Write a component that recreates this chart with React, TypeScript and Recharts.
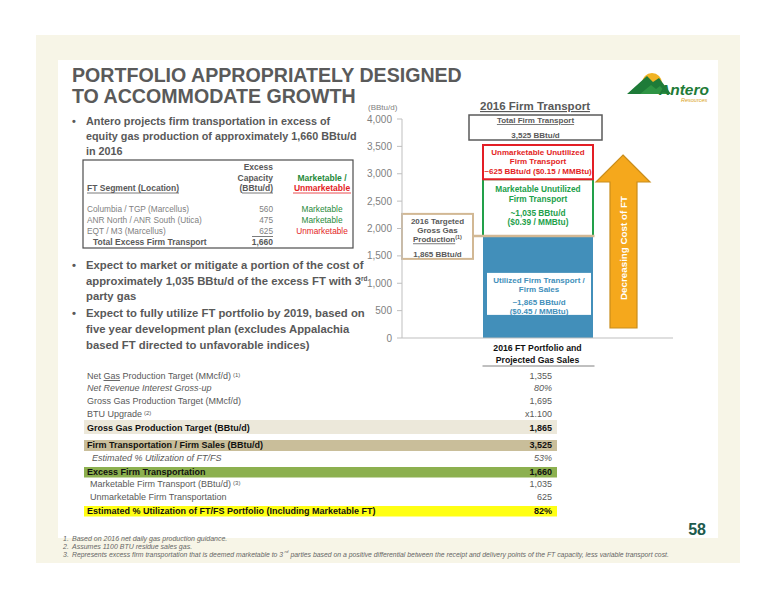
import React from 'react';
import { BarChart, Bar, XAxis, YAxis, LabelList, ReferenceLine } from 'recharts';

// ---------- data ----------
const categories = ['2016 FT Portfolio and|Projected Gas Sales'];
const utilizedFT = [1865];
const marketableFT = [1035];
const unmarketableFT = [625];
const totalFT = [3525];
const yTicks = [0, 500, 1000, 1500, 2000, 2500, 3000, 3500, 4000];

const segmentNames = ['Columbia / TGP (Marcellus)', 'ANR North / ANR South (Utica)', 'EQT / M3 (Marcellus)'];
const segmentCapacity = ['560', '475', '625'];
const segmentStatus = ['Marketable', 'Marketable', 'Unmarketable'];
const segmentTotal = '1,660';

const bridgeLabels = [
  'Net Gas Production Target (MMcf/d)',
  'Net Revenue Interest Gross-up',
  'Gross Gas Production Target (MMcf/d)',
  'BTU Upgrade',
  'Gross Gas Production Target (BBtu/d)',
  'Firm Transportation / Firm Sales (BBtu/d)',
  'Estimated % Utilization of FT/FS',
  'Excess Firm Transportation',
  'Marketable Firm Transport (BBtu/d)',
  'Unmarketable Firm Transportation',
  'Estimated % Utilization of FT/FS Portfolio (Including Marketable FT)',
];
const bridgeNotes = ['(1)', '', '', '(2)', '', '', '', '', '(3)', '', ''];
const bridgeValues = ['1,355', '80%', '1,695', 'x1.100', '1,865', '3,525', '53%', '1,660', '1,035', '625', '82%'];

const footnote1 = 'Based on 2016 net daily gas production guidance.';
const footnote2 = 'Assumes 1100 BTU residue sales gas.';
const footnote3a = 'Represents excess firm transportation that is deemed marketable to 3';
const footnote3b = 'parties based on a positive differential between the receipt and delivery points of the FT capacity, less variable transport cost.';

// ---------- styles / layout ----------
const FONT = "'Liberation Sans', Arial, Helvetica, sans-serif";
const GRAY = '#595959';
const BLUE = '#428fba';
const GREEN = '#22a04a';
const RED = '#e31e25';
const TAN = '#d2b894';
const ORANGE = '#f5a81c';

const bridgeLayout = [
  { y: 379, x: 87, bold: false, italic: false, band: null },
  { y: 391, x: 87, bold: false, italic: true, band: null },
  { y: 404, x: 87, bold: false, italic: false, band: null },
  { y: 417, x: 87, bold: false, italic: false, band: null },
  { y: 431, x: 87, bold: true, italic: false, band: { y: 420, h: 14, c: '#ece8da' } },
  { y: 448, x: 87, bold: true, italic: false, band: { y: 440, h: 11, c: '#c9be9a' } },
  { y: 461, x: 92, bold: false, italic: true, band: null },
  { y: 475, x: 87, bold: true, italic: false, band: { y: 467, h: 10.5, c: '#8cb04f' } },
  { y: 487, x: 90, bold: false, italic: false, band: null },
  { y: 500, x: 90, bold: false, italic: false, band: null },
  { y: 514, x: 87, bold: true, italic: false, band: { y: 506, h: 10.5, c: '#ffff14' } },
];

const chartData = categories.map((name, i) => ({
  name,
  utilized: utilizedFT[i],
  marketable: marketableFT[i],
  unmarketable: unmarketableFT[i],
}));

const fmt = (v: number) => v.toLocaleString('en-US');

const box = (p: any) => {
  const vb = p.viewBox && p.viewBox.width !== undefined ? p.viewBox : p;
  return { x: Number(vb.x), y: Number(vb.y), width: Number(vb.width), height: Number(vb.height) };
};

const UtilizedLabel = (p: any) => {
  const { x, y, width } = box(p);
  const cx = x + width / 2 + 1;
  const v = utilizedFT[p.index ?? 0];
  return (
    <g fontFamily={FONT} fontWeight="bold" fontSize={8} fill={BLUE} textAnchor="middle">
      <rect x={x + 4} y={y + 37} width={width - 6} height={42} fill="#ffffff" />
      <text x={cx} y={y + 47}>Utilized Firm Transport /</text>
      <text x={cx} y={y + 56}>Firm Sales</text>
      <text x={cx} y={y + 69}>~{fmt(v)} BBtu/d</text>
      <text x={cx} y={y + 78}>($0.45 / MMBtu)</text>
    </g>
  );
};

const MarketableLabel = (p: any) => {
  const { x, y, width } = box(p);
  const cx = x + width / 2;
  const v = marketableFT[p.index ?? 0];
  return (
    <g fontFamily={FONT} fontWeight="bold" fontSize={8.3} fill={GREEN} textAnchor="middle">
      <text x={cx} y={y + 13}>Marketable Unutilized</text>
      <text x={cx} y={y + 23}>Firm Transport</text>
      <text x={cx} y={y + 37}>~{fmt(v)} BBtu/d</text>
      <text x={cx} y={y + 46}>($0.39 / MMBtu)</text>
    </g>
  );
};

const UnmarketableLabel = (p: any) => {
  const { x, y, width, height } = box(p);
  const i = p.index ?? 0;
  const cx = x + width / 2;
  const k = height / unmarketableFT[i];
  const baseY = y + height + (utilizedFT[i] + marketableFT[i]) * k;
  const right = x + width;
  const tipY = y + 10;
  const headY = y + 37;
  const botY = baseY - 10;
  const ax = right + 30;
  return (
    <g fontFamily={FONT} fontWeight="bold">
      <g fontSize={8} fill={RED} textAnchor="middle">
        <text x={cx} y={y + 9.5}>Unmarketable Unutilized</text>
        <text x={cx} y={y + 19}>Firm Transport</text>
        <text x={cx} y={y + 28.5}>~{fmt(unmarketableFT[i])} BBtu/d ($0.15 / MMBtu)</text>
      </g>
      <rect x={cx - 69} y={y - 30} width={133} height={25} fill="#ffffff" stroke="#5a5a5a" strokeWidth={1.5} />
      <g fontSize={8} fill={GRAY} textAnchor="middle">
        <text x={cx - 2.5} y={y - 22} style={{ textDecoration: 'underline' }}>Total Firm Transport</text>
        <text x={cx - 2.5} y={y - 7.5}>{fmt(totalFT[i])} BBtu/d</text>
      </g>
      <text x={cx - 3} y={y - 35} fontSize={11.5} fill={GRAY} textAnchor="middle" style={{ textDecoration: 'underline' }}>2016 Firm Transport</text>
      <polygon
        points={`${ax},${tipY} ${right + 57},${headY} ${right + 44},${headY} ${right + 44},${botY} ${right + 17},${botY} ${right + 17},${headY} ${right + 3},${headY}`}
        fill={ORANGE}
        stroke="#c98d1c"
        strokeWidth={1.2}
      />
      <text
        x={ax + 0.5}
        y={(headY + botY) / 2 - 7}
        fontSize={9.8}
        fill="#ffffff"
        textAnchor="middle"
        dominantBaseline="central"
        transform={`rotate(-90 ${ax + 0.5} ${(headY + botY) / 2 - 7})`}
      >
        Decreasing Cost of FT
      </text>
    </g>
  );
};

const TargetMarker = (p: any) => {
  const x1 = Number(p.x1);
  const x2 = Number(p.x2);
  const yy = Number(p.y1);
  const barRight = (x1 + x2) / 2 + 57;
  const bx = x1;
  const bw = 71;
  const cx = bx + bw / 2;
  return (
    <g fontFamily={FONT} fontWeight="bold">
      <line x1={bx + bw} x2={barRight} y1={yy} y2={yy} stroke={TAN} strokeWidth={2.5} />
      <rect x={bx} y={yy - 22} width={bw} height={45} fill="#ffffff" stroke={TAN} strokeWidth={2} />
      <g fontSize={8} fill={GRAY} textAnchor="middle">
        <text x={cx} y={yy - 12}>2016 Targeted</text>
        <text x={cx} y={yy - 3}>Gross Gas</text>
        <text x={cx} y={yy + 6.5}>
          <tspan style={{ textDecoration: 'underline' }}>Production</tspan>
          <tspan fontSize={5.5} dy={-3}>(1)</tspan>
        </text>
        <text x={cx} y={yy + 21}>{fmt(utilizedFT[0])} BBtu/d</text>
      </g>
    </g>
  );
};

const AxisUnit = (p: any) => {
  const vb = p.viewBox || {};
  return (
    <text x={Number(vb.x) + 6} y={Number(vb.y) - 9} fontFamily={FONT} fontSize={8} fill="#7f7f7f">
      (BBtu/d)
    </text>
  );
};

const CategoryTick = (p: any) => {
  const { x, y, payload } = p;
  const [l1, l2] = String(payload.value).split('|');
  return (
    <g fontFamily={FONT} fontWeight="bold" fontSize={8.7} fill="#111111" textAnchor="middle">
      <text x={x} y={y + 5}>{l1}</text>
      <text x={x} y={y + 17}>{l2}</text>
      <line x1={x - 55} x2={x + 57} y1={y + 20} y2={y + 20} stroke="#808080" strokeWidth={1} />
    </g>
  );
};

function SlideText() {
  const bullets = [
    { size: 10.8, y: [125, 140, 155], lines: ['Antero projects firm transportation in excess of', 'equity gas production of approximately 1,660 BBtu/d', 'in 2016'] },
    { size: 11.3, y: [269, 284.5, 300], lines: ['Expect to market or mitigate a portion of the cost of', 'approximately 1,035 BBtu/d of the excess FT with 3|rd', 'party gas'] },
    { size: 11.3, y: [317, 333, 349], lines: ['Expect to fully utilize FT portfolio by 2019, based on', 'five year development plan (excludes Appalachia', 'based FT directed to unfavorable indices)'] },
  ];
  const rowY = [211.5, 222.5, 233.5];
  return (
    <g fontFamily={FONT}>
      {/* title */}
      <g fontSize={19.6} fontWeight="bold" fill="#5a5a5a">
        <text x={72} y={82}>PORTFOLIO APPROPRIATELY DESIGNED</text>
        <text x={72} y={103}>TO ACCOMMODATE GROWTH</text>
      </g>
      {/* bullets */}
      <g fontWeight="bold" fill={GRAY}>
        {bullets.map((b, bi) => (
          <g key={bi} fontSize={b.size}>
            <text x={72} y={b.y[0]}>•</text>
            {b.lines.map((l, li) => {
              const [main, sup] = l.split('|');
              return (
                <text key={li} x={86} y={b.y[li]}>
                  {main}
                  {sup ? <tspan fontSize={6.5} dy={-4}>{sup}</tspan> : null}
                </text>
              );
            })}
          </g>
        ))}
      </g>
      {/* segment table */}
      <rect x={83} y={160} width={270} height={88} fill="none" stroke="#4d4d4d" strokeWidth={1.2} />
      <g fontSize={8.5} fontWeight="bold" fill={GRAY}>
        <text x={273} y={170} textAnchor="end">Excess</text>
        <text x={273} y={180.5} textAnchor="end">Capacity</text>
        <text x={273} y={190.5} textAnchor="end">(BBtu/d)</text>
        <text x={87} y={190.5}>FT Segment (Location)</text>
        <text x={322} y={180.5} textAnchor="middle" fill="#1f8a3a">Marketable /</text>
        <text x={322} y={190.5} textAnchor="middle" fill={RED}>Unmarketable</text>
      </g>
      <g stroke="#595959" strokeWidth={0.8}>
        <line x1={87} x2={179} y1={193} y2={193} />
        <line x1={242} x2={273} y1={193} y2={193} />
        <line x1={293} x2={351} y1={193} y2={193} stroke={RED} />
        <line x1={252} x2={273} y1={236.5} y2={236.5} />
      </g>
      <g fontSize={8.3} fill="#7f7f7f">
        {segmentNames.map((n, i) => (
          <g key={n}>
            <text x={87} y={rowY[i]}>{n}</text>
            <text x={273} y={rowY[i]} textAnchor="end">{segmentCapacity[i]}</text>
            <text x={322} y={rowY[i]} textAnchor="middle" fill={segmentStatus[i] === 'Marketable' ? '#1f8a3a' : RED}>
              {segmentStatus[i]}
            </text>
          </g>
        ))}
      </g>
      <g fontSize={8.5} fontWeight="bold" fill={GRAY}>
        <text x={93} y={244.5}>Total Excess Firm Transport</text>
        <text x={273} y={244.5} textAnchor="end">{segmentTotal}</text>
      </g>
      {/* bridge table */}
      {bridgeLayout.map((r, i) =>
        r.band ? <rect key={'b' + i} x={84} y={r.band.y} width={473} height={r.band.h} fill={r.band.c} /> : null
      )}
      <g fontSize={9}>
        {bridgeLabels.map((lab, i) => {
          const r = bridgeLayout[i];
          const fill = r.bold ? '#111111' : GRAY;
          const parts = i === 0 ? lab.split('Gas') : null;
          return (
            <g key={lab} fill={fill} fontWeight={r.bold ? 'bold' : 'normal'} fontStyle={r.italic ? 'italic' : 'normal'}>
              <text x={r.x} y={r.y}>
                {parts ? (
                  <>
                    {parts[0]}
                    <tspan style={{ textDecoration: 'underline' }}>Gas</tspan>
                    {parts[1]}
                  </>
                ) : (
                  lab
                )}
                {bridgeNotes[i] ? (
                  <tspan fontSize={6} dx={2} dy={-2.5}>
                    {bridgeNotes[i]}
                  </tspan>
                ) : null}
              </text>
              <text x={552} y={r.y} textAnchor="end">{bridgeValues[i]}</text>
            </g>
          );
        })}
      </g>
      {/* page number */}
      <text x={706} y={535} fontSize={16} fontWeight="bold" fill="#1d5a4c" textAnchor="end">58</text>
      {/* footnotes */}
      <g fontStyle="italic" fill="#666666">
        <g fontSize={7}>
          <text x={63} y={540.5}>1.</text>
          <text x={72} y={540.5}>{footnote1}</text>
          <text x={63} y={548.5}>2.</text>
          <text x={72} y={548.5}>{footnote2}</text>
          <text x={63} y={556.5}>3.</text>
        </g>
        <g fontSize={6.85}>
          <text x={72} y={556.5}>{footnote3a}</text>
          <text x={284.5} y={553.3} fontSize={4.3}>rd</text>
          <text x={290.5} y={556.5}>{footnote3b}</text>
        </g>
      </g>
      {/* logo */}
      <g>
        <circle cx={652} cy={83} r={10} fill="#f1b324" />
        <polygon points="627,94 647,76 653,82 659,78 671,94" fill="#1e7b38" />
        <polygon points="640,94 651,85 656,89 660,86 667,94" fill="#2e9444" />
        <text x={659} y={95} fontSize={15.5} fontWeight="bold" fontStyle="italic" fill="#1e7b38">Antero</text>
        <text x={681} y={101.5} fontSize={5.5} fontStyle="italic" fill="#d9a320">Resources</text>
      </g>
    </g>
  );
}

export default function App() {
  return (
    <div style={{ position: 'absolute', left: 0, top: 0, width: 776, height: 600, background: '#ffffff', overflow: 'hidden' }}>
      <svg width={776} height={600} style={{ position: 'absolute', left: 0, top: 0 }}>
        <rect x={36} y={35} width={704} height={528} fill="#f7f5e7" />
        <rect x={58} y={60} width={660} height={478} fill="#ffffff" />
        <SlideText />
      </svg>
      <div style={{ position: 'absolute', left: 0, top: 0 }}>
        <BarChart width={776} height={600} data={chartData} margin={{ top: 119, right: 103, bottom: 261, left: 362 }}>
          <YAxis
            width={40}
            domain={[0, 4000]}
            ticks={yTicks}
            interval={0}
            tickFormatter={fmt}
            tick={{ fontSize: 10, fill: '#7f7f7f', fontFamily: FONT }}
            axisLine={{ stroke: '#bfbfbf' }}
            tickLine={{ stroke: '#bfbfbf' }}
            tickSize={5}
            tickMargin={5}
            label={<AxisUnit />}
          />
          <XAxis
            dataKey="name"
            height={1}
            axisLine={{ stroke: '#bfbfbf' }}
            tickLine={false}
            tickSize={6}
            tickMargin={2}
            tick={<CategoryTick />}
            interval={0}
          />
          <Bar dataKey="utilized" stackId="ft" fill={BLUE} barSize={110} isAnimationActive={false}>
            <LabelList dataKey="utilized" content={<UtilizedLabel />} />
          </Bar>
          <Bar dataKey="marketable" stackId="ft" fill="#ffffff" stroke={GREEN} strokeWidth={2} barSize={110} isAnimationActive={false}>
            <LabelList dataKey="marketable" content={<MarketableLabel />} />
          </Bar>
          <Bar dataKey="unmarketable" stackId="ft" fill="#ffffff" stroke={RED} strokeWidth={2} barSize={110} isAnimationActive={false}>
            <LabelList dataKey="unmarketable" content={<UnmarketableLabel />} />
          </Bar>
          <ReferenceLine y={utilizedFT[0]} shape={(p: any) => <TargetMarker {...p} />} />
        </BarChart>
      </div>
    </div>
  );
}
